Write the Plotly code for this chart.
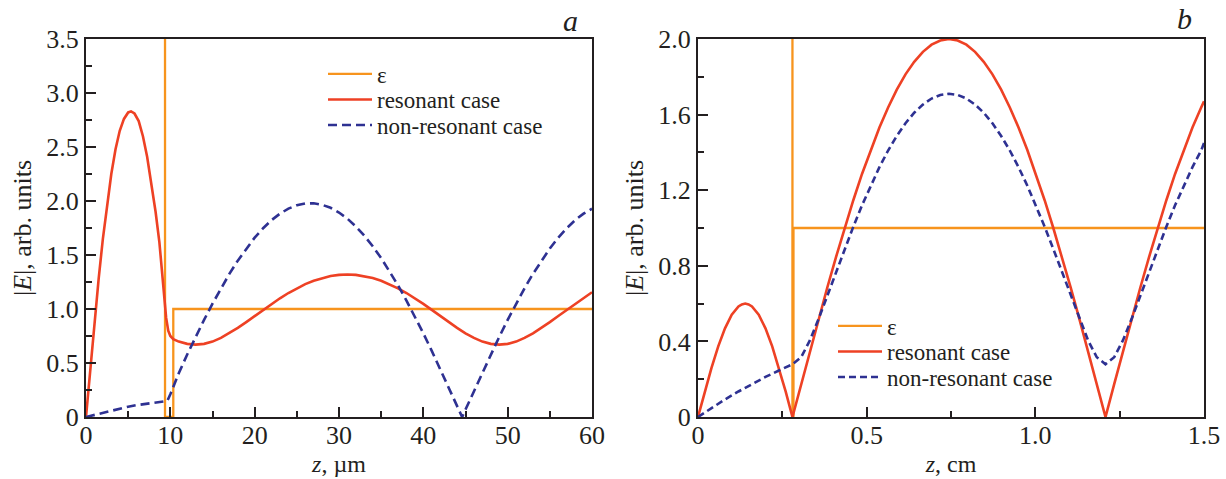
import plotly.graph_objects as go

# ---------------- Panel a data (z in micrometres) ----------------
za_eps = [0, 9.37, 9.37, 10.35, 10.35, 60]
eps_a = [12, 12, 0, 0, 1, 1]

za_res = [0, 0.5, 1, 1.5, 2, 2.5, 3, 3.5, 4, 4.5, 5, 5.34, 5.75, 6.25, 6.75, 7.25, 7.75, 8.25,
          8.7, 9.0, 9.25, 9.5, 9.75, 10.0, 10.35,
          11, 12, 13, 14, 15, 16, 17, 18, 19, 20, 21, 22, 23, 24, 25, 26, 27, 28, 29, 30,
          31, 32, 33, 34, 35, 36, 37, 38, 39, 40, 41, 42, 43, 44, 45, 46, 47, 48, 49, 50,
          51, 52, 53, 54, 55, 56, 57, 58, 59, 60]
res_a = [0, 0.45, 0.88, 1.28, 1.65, 1.97, 2.25, 2.48, 2.65, 2.76, 2.82, 2.83, 2.81, 2.74, 2.60, 2.41, 2.17, 1.90,
         1.62, 1.38, 1.12, 0.92, 0.80, 0.75, 0.72,
         0.698, 0.677, 0.670, 0.677, 0.698, 0.732, 0.775, 0.825, 0.879, 0.935, 0.992, 1.047, 1.099, 1.148, 1.191,
         1.230, 1.262, 1.287, 1.305, 1.316, 1.320, 1.316, 1.305, 1.287, 1.262, 1.230, 1.191, 1.148, 1.099, 1.047,
         0.992, 0.935, 0.879, 0.825, 0.775, 0.732, 0.698, 0.677, 0.670, 0.677, 0.698, 0.732, 0.775, 0.825, 0.879,
         0.935, 0.992, 1.047, 1.099, 1.155]

za_non = [0, 1, 2, 3, 4, 5, 6, 7, 8, 9, 9.64, 10, 10.5, 11,
          12, 13, 14, 15, 16, 17, 18, 19, 20, 21, 22, 23, 24, 25, 26, 27, 28, 29, 30, 31, 32,
          33, 34, 35, 36, 37, 38, 39, 40, 41, 42, 43, 44, 44.6, 45,
          46, 47, 48, 49, 50, 51, 52, 53, 54, 55, 56, 57, 58, 59, 60]
non_a = [0, 0.02, 0.04, 0.058, 0.077, 0.095, 0.11, 0.122, 0.133, 0.142, 0.148, 0.21, 0.315, 0.405,
         0.579, 0.742, 0.899, 1.049, 1.192, 1.325, 1.448, 1.560, 1.661, 1.748, 1.823, 1.883, 1.929, 1.961,
         1.977, 1.979, 1.965, 1.937, 1.893, 1.836, 1.764, 1.679, 1.581, 1.471, 1.350, 1.219, 1.078, 0.930,
         0.774, 0.612, 0.445, 0.276, 0.104, 0, 0.069,
         0.241, 0.412, 0.579, 0.742, 0.899, 1.049, 1.192, 1.325, 1.448, 1.560, 1.661, 1.748, 1.823, 1.883, 1.929]

# ---------------- Panel b data (z in centimetres) ----------------
zb_eps = [0, 0.28, 0.28, 0.283, 0.283, 1.5]
eps_b = [5, 5, 0, 0, 1, 1]

zb_res = [0, 0.02, 0.04, 0.06, 0.08, 0.10, 0.12, 0.13, 0.14, 0.15, 0.16, 0.18, 0.20, 0.22, 0.24, 0.26, 0.28,
          0.3058, 0.3316, 0.3573, 0.3831, 0.4089, 0.4347, 0.4604, 0.4862, 0.5120, 0.5378,
          0.5636, 0.5893, 0.6151, 0.6409, 0.6667, 0.6924, 0.7182, 0.7440, 0.7698, 0.7956,
          0.8213, 0.8471, 0.8729, 0.8987, 0.9244, 0.9502, 0.9760, 1.0018, 1.0276, 1.0533,
          1.0791, 1.1049, 1.1307, 1.1564, 1.1822, 1.2080, 1.2338, 1.2596, 1.2853, 1.3111,
          1.3369, 1.3627, 1.3884, 1.4142, 1.4400, 1.4658, 1.4916, 1.5]
res_b = [0, 0.134, 0.260, 0.374, 0.469, 0.541, 0.585, 0.596, 0.600, 0.596, 0.585, 0.541, 0.469, 0.374, 0.260, 0.134, 0,
         0.174, 0.347, 0.518, 0.684, 0.845, 1.0, 1.147, 1.286, 1.414, 1.532,
         1.638, 1.732, 1.813, 1.879, 1.932, 1.970, 1.992, 2.0, 1.992, 1.970,
         1.932, 1.879, 1.813, 1.732, 1.638, 1.532, 1.414, 1.286, 1.147, 1.0,
         0.845, 0.684, 0.518, 0.347, 0.174, 0, 0.174, 0.347, 0.518, 0.684,
         0.845, 1.0, 1.147, 1.286, 1.414, 1.532, 1.638, 1.670]

zb_non = [0, 0.04, 0.08, 0.12, 0.16, 0.20, 0.24, 0.28,
          0.3058, 0.3316, 0.3573, 0.3831, 0.4089, 0.4347, 0.4604, 0.4862, 0.5120, 0.5378,
          0.5636, 0.5893, 0.6151, 0.6409, 0.6667, 0.6924, 0.7182, 0.7440, 0.7698, 0.7956,
          0.8213, 0.8471, 0.8729, 0.8987, 0.9244, 0.9502, 0.9760, 1.0018, 1.0276, 1.0533,
          1.0791, 1.1049, 1.1307, 1.1564, 1.1822, 1.2080, 1.2338, 1.2596, 1.2853, 1.3111,
          1.3369, 1.3627, 1.3884, 1.4142, 1.4400, 1.4658, 1.4916, 1.5]
non_b = [0, 0.048, 0.093, 0.135, 0.175, 0.212, 0.246, 0.279,
         0.316, 0.405, 0.518, 0.641, 0.766, 0.889, 1.007, 1.120, 1.225, 1.322,
         1.410, 1.487, 1.554, 1.610, 1.653, 1.685, 1.704, 1.710, 1.704, 1.685,
         1.653, 1.610, 1.554, 1.487, 1.410, 1.322, 1.225, 1.120, 1.007, 0.889,
         0.766, 0.641, 0.518, 0.405, 0.316, 0.279, 0.316, 0.405, 0.518, 0.641,
         0.766, 0.889, 1.007, 1.120, 1.225, 1.322, 1.410, 1.450]

ya_ticks = [0, 0.5, 1.0, 1.5, 2.0, 2.5, 3.0, 3.5]
ya_text = ["0", "0.5", "1.0", "1.5", "2.0", "2.5", "3.0", "3.5"]
xa_ticks = [0, 10, 20, 30, 40, 50, 60]
yb_ticks = [0, 0.4, 0.8, 1.2, 1.6, 2.0]
yb_text = ["0", "0.4", "0.8", "1.2", "1.6", "2.0"]
xb_ticks = [0, 0.5, 1.0, 1.5]
xb_text = ["0", "0.5", "1.0", "1.5"]

names = ["ε", "resonant case", "non-resonant case"]
y_title = "|<i>E</i>|, arb. units"

ORANGE = "#F7941D"
RED = "#EE4124"
BLUE = "#2E3192"
INK = "#231F20"
FONT = "'Liberation Serif', 'Times New Roman', Times, 'DejaVu Serif', serif"
FS = 26
LFS = 23

fig = go.Figure()

# panel a
fig.add_trace(go.Scatter(x=za_eps, y=eps_a, mode="lines", name=names[0],
                         line=dict(color=ORANGE, width=2.3), xaxis="x", yaxis="y", legend="legend"))
fig.add_trace(go.Scatter(x=za_res, y=res_a, mode="lines", name=names[1],
                         line=dict(color=RED, width=2.6), xaxis="x", yaxis="y", legend="legend2"))
fig.add_trace(go.Scatter(x=za_non, y=non_a, mode="lines", name=names[2],
                         line=dict(color=BLUE, width=2.6, dash="9px,5px"), xaxis="x", yaxis="y",
                         legend="legend3"))
# panel b
fig.add_trace(go.Scatter(x=zb_eps, y=eps_b, mode="lines", name=names[0],
                         line=dict(color=ORANGE, width=2.3), xaxis="x2", yaxis="y2", legend="legend4"))
fig.add_trace(go.Scatter(x=zb_res, y=res_b, mode="lines", name=names[1],
                         line=dict(color=RED, width=2.6), xaxis="x2", yaxis="y2", legend="legend5"))
fig.add_trace(go.Scatter(x=zb_non, y=non_b, mode="lines", name=names[2],
                         line=dict(color=BLUE, width=2.6, dash="7px,4px"), xaxis="x2", yaxis="y2",
                         legend="legend6"))

W, H = 1226, 479
ML, MR, MT, MB = 86, 22, 39, 62
PW, PH = W - ML - MR, H - MT - MB


def px_x(p):
    return (p - ML) / PW


def px_y(p):
    return (H - MB - p) / PH


def axis_common():
    return dict(showline=True, linewidth=2, linecolor=INK, mirror=True, ticks="inside",
                ticklen=10, tickwidth=1.5, tickcolor=INK, showgrid=False, zeroline=False,
                automargin=False,
                tickfont=dict(family=FONT, size=FS, color=INK),
                title_font=dict(family=FONT, size=24, color=INK))


xa = axis_common()
xa.update(domain=[0, px_x(592)], range=[0, 60], tickmode="array", tickvals=xa_ticks,
          minor=dict(dtick=5, ticklen=6, ticks="inside", tickcolor=INK, tickwidth=1.5),
          ticklabelstandoff=-6, title=dict(text="<i>z</i>, µm", standoff=6))
ya = axis_common()
ya.update(domain=[0, 1], range=[0, 3.5], tickmode="array", tickvals=ya_ticks, ticktext=ya_text,
          minor=dict(dtick=0.25, ticklen=6, ticks="inside", tickcolor=INK, tickwidth=1.5))
xb = axis_common()
xb.update(domain=[px_x(698), 1], range=[0, 1.5], tickmode="array", tickvals=xb_ticks, ticktext=xb_text,
          minor=dict(dtick=0.25, ticklen=6, ticks="inside", tickcolor=INK, tickwidth=1.5),
          ticklabelstandoff=-6, title=dict(text="<i>z</i>, cm", standoff=6), anchor="y2")
yb = axis_common()
yb.update(domain=[0, 1], range=[0, 2.0], tickmode="array", tickvals=yb_ticks, ticktext=yb_text,
          minor=dict(dtick=0.2, ticklen=6, ticks="inside", tickcolor=INK, tickwidth=1.5), anchor="x2")


def leg(xp, yp):
    return dict(x=px_x(xp), y=px_y(yp), xanchor="left", yanchor="middle", bgcolor="rgba(0,0,0,0)",
                borderwidth=0, font=dict(family=FONT, size=LFS, color=INK), itemwidth=44)


fig.update_layout(
    width=W, height=H, margin=dict(l=ML, r=MR, t=MT, b=MB, autoexpand=False),
    paper_bgcolor="white", plot_bgcolor="white", showlegend=True,
    font=dict(family=FONT, size=FS, color=INK),
    xaxis=xa, yaxis=ya, xaxis2=xb, yaxis2=yb,
    legend=leg(323, 74), legend2=leg(323, 99.5), legend3=leg(323, 125),
    legend4=leg(833, 326), legend5=leg(833, 351.5), legend6=leg(833, 377),
    annotations=[
        dict(text=y_title, x=px_x(22), y=0.5, xref="paper", yref="paper", showarrow=False,
             textangle=-90, xanchor="center", yanchor="middle", font=dict(family=FONT, size=FS, color=INK)),
        dict(text=y_title, x=px_x(634), y=0.5, xref="paper", yref="paper", showarrow=False,
             textangle=-90, xanchor="center", yanchor="middle", font=dict(family=FONT, size=FS, color=INK)),
        dict(text="<i>a</i>", x=px_x(570), y=px_y(21), xref="paper", yref="paper", showarrow=False,
             xanchor="center", yanchor="middle", font=dict(family=FONT, size=30, color=INK)),
        dict(text="<i>b</i>", x=px_x(1184), y=px_y(19), xref="paper", yref="paper", showarrow=False,
             xanchor="center", yanchor="middle", font=dict(family=FONT, size=30, color=INK)),
    ],
)

fig.write_html("out.html")
